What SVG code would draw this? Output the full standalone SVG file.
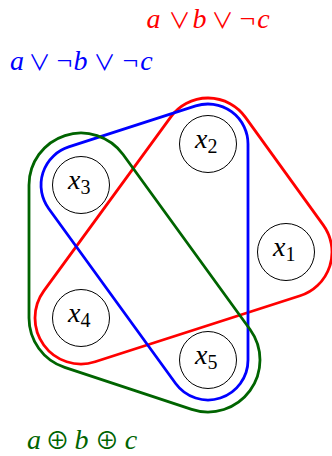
<svg xmlns="http://www.w3.org/2000/svg" width="332" height="456" viewBox="0 0 332 456">
<style>
.hull{fill:none;stroke-width:2.8;stroke-linejoin:round}
.red{stroke:#ff0000}
.blue{stroke:#0000ff}
.green{stroke:#006400}
.node{fill:none;stroke:#000;stroke-width:1}
.lbl{font-family:"Liberation Serif","Times New Roman",serif;font-size:28px;font-style:italic;fill:#000}
.sub{font-size:20px;font-style:normal}
.math{font-family:"Liberation Serif","DejaVu Serif",serif;font-size:28px;text-anchor:middle}
.v{font-style:italic}
.op{font-family:"Noto Sans CJK JP","DejaVu Serif",serif;font-size:22px}
.xor{font-family:"Noto Sans CJK JP","DejaVu Serif",serif;font-size:24px}
.neg{font-family:"Liberation Serif","DejaVu Serif",serif;font-size:28px}
</style>
<g id="connectors">
<path class="hull red" d="M170.85,116.88 A46,46 0 0 1 245.29,117.07 L323.29,225.07 A46,46 0 0 1 300.10,295.79 L95.10,361.79 A46,46 0 0 1 43.85,290.88 Z"/>
<path class="hull blue" d="M68.71,146.93 L195.71,105.93 A40,40 0 0 1 248,144 L248,360 A40,40 0 0 1 175.63,383.49 L48.63,208.49 A40,40 0 0 1 68.71,146.93 Z"/>
<path class="hull green" d="M29,185 A52,52 0 0 1 123.08,154.46 L250.08,329.46 A52,52 0 0 1 191.67,409.37 L64.67,367.37 A52,52 0 0 1 29,318 Z"/>
</g>
<g id="x1"><circle class="node" cx="286" cy="252" r="28.5"/><text class="lbl" x="273" y="256">x<tspan class="sub" dy="5">1</tspan></text></g>
<g id="x2"><circle class="node" cx="208" cy="144" r="28.5"/><text class="lbl" x="195" y="148">x<tspan class="sub" dy="5">2</tspan></text></g>
<g id="x3"><circle class="node" cx="81" cy="185" r="28.5"/><text class="lbl" x="68" y="189">x<tspan class="sub" dy="5">3</tspan></text></g>
<g id="x4"><circle class="node" cx="81" cy="318" r="28.5"/><text class="lbl" x="68" y="322">x<tspan class="sub" dy="5">4</tspan></text></g>
<g id="x5"><circle class="node" cx="208" cy="360" r="28.5"/><text class="lbl" x="195" y="364">x<tspan class="sub" dy="5">5</tspan></text></g>
<g id="label-red">
<text class="math" y="28" fill="#ff0000"><tspan class="v" x="153.5">a</tspan><tspan class="op" x="179.5">∨</tspan><tspan class="v" x="199.5">b</tspan><tspan class="op" x="222.5">∨</tspan><tspan class="neg" x="247.5">¬</tspan><tspan class="v" x="263.5">c</tspan></text>
</g>
<g id="label-blue">
<text class="math" y="70" fill="#0000ff"><tspan class="v" x="17">a</tspan><tspan class="op" x="39.5">∨</tspan><tspan class="neg" x="64.5">¬</tspan><tspan class="v" x="80.5">b</tspan><tspan class="op" x="104.5">∨</tspan><tspan class="neg" x="130.5">¬</tspan><tspan class="v" x="146.5">c</tspan></text>
</g>
<g id="label-green">
<text class="math" y="449" fill="#006400"><tspan class="v" x="34">a</tspan><tspan class="xor" x="57.5">⊕</tspan><tspan class="v" x="81.5">b</tspan><tspan class="xor" x="107">⊕</tspan><tspan class="v" x="131">c</tspan></text>
</g>
</svg>
